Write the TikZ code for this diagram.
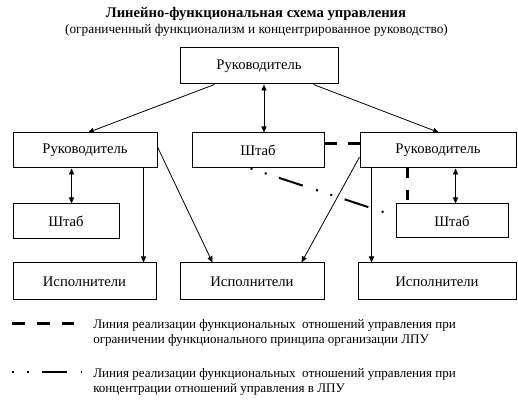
\documentclass[tikz,border=0pt]{standalone}
\usepackage{fontspec}
\setmainfont{Liberation Serif}
\usetikzlibrary{arrows.meta,calc}
\begin{document}
\begin{tikzpicture}[x=0.75pt,y=-0.75pt,
  bx/.style 2 args={draw, line width=0.75pt, minimum width=#1*0.75pt, minimum height=#2*0.75pt, inner sep=0pt, font=\fontsize{11}{12}\selectfont},
  tip/.tip={Triangle[length=4.5pt,width=3.8pt]},
  arr/.style={line width=0.6pt, -tip},
  darr/.style={line width=0.6pt, tip-tip},
  thickdash/.style={line width=2.25pt, dash pattern=on 9.4pt off 8.2pt},
  dotdash/.style={line width=1.5pt, dash pattern=on 1.5pt off 9.75pt on 1.5pt off 9.75pt on 18.75pt off 10.5pt},
  legtext/.style={anchor=west, align=left, inner sep=0pt, font=\fontsize{9.8}{11.25}\selectfont}
]
\useasboundingbox (0,0) rectangle (518,409);
% titles
\node[font=\bfseries\fontsize{11}{13}\selectfont] (title) at (256,14) {Линейно-функциональная схема управления};
\node[font=\fontsize{10}{12}\selectfont] (subtitle) at (256.5,30) {(ограниченный функционализм и концентрированное руководство)};
% boxes
\node[bx={158}{36}] (top) at (259,66) {Руководитель};
\node[bx={144}{35}] (LR) at (85,150.5) {Руководитель};
\node[bx={132}{35}] (MS) at (258,150.5) {Штаб};
\node[bx={156}{35}] (RR) at (438,150.5) {Руководитель};
\node[bx={106}{35}] (LS) at (66,221.5) {Штаб};
\node[bx={112}{34}] (RS) at (452,221) {Штаб};
\node[bx={143}{37}] (LI) at (84.5,281.5) {Исполнители};
\node[bx={144}{37}] (MI) at (252,281.5) {Исполнители};
\node[bx={158}{37}] (RI) at (437,281.5) {Исполнители};
% connectors
\draw[arr] ($(top.south west)+(35,0)$) -- ($(LR.north)+(3,0)$);
\draw[arr] ($(top.south east)+(-25,0)$) -- ($(RR.north)+(1,0)$);
\draw[darr] ($(top.south)+(5,0)$) -- ($(MS.north)+(6,0)$);
\draw[darr] ($(LR.south west)+(59,0)$) -- ($(LS.north west)+(59,0)$);
\draw[arr] ($(LR.south west)+(131,0)$) -- ($(LI.north west)+(131,0)$);
\draw[arr] ($(LR.east)+(0,-3.5)$) -- ($(MI.north west)+(33,0)$);
\draw[arr] ($(RR.west)+(0,6.5)$) -- ($(MI.north west)+(122,0)$);
\draw[arr] ($(RR.south west)+(12,0)$) -- ($(RI.north west)+(14,0)$);
\draw[darr] ($(RR.south west)+(96,0)$) -- ($(RS.north west)+(60,0)$);
\draw[thickdash] ($(MS.east)+(0,-6.5)$) -- ($(RR.west)+(0,-6.5)$);
\draw[line width=2.25pt, dash pattern=on 7.5pt off 9pt] ($(RR.south west)+(48,0)$) -- ($(RS.north west)+(12,0)$);
\draw[dotdash] ($(MS.south west)+(59,0)$) -- ($(RS.west)+(0,-5)$);
% legend
\coordinate (l1a) at (12,324);
\coordinate (l1b) at (74,324);
\draw[line width=2.25pt, dash pattern=on 9.75pt off 9pt] (l1a) -- (l1b);
\coordinate (l2a) at (12,372);
\coordinate (l2b) at (81.5,372);
\draw[dotdash] (l2a) -- (l2b);
\node[legtext] (t1) at (93,332.5) {Линия реализации функциональных\ \ отношений управления при\\ограничении функционального принципа организации ЛПУ};
\node[legtext] (t2) at (93,381.5) {Линия реализации функциональных\ \ отношений управления при\\концентрации отношений управления в ЛПУ};
\end{tikzpicture}
\end{document}
